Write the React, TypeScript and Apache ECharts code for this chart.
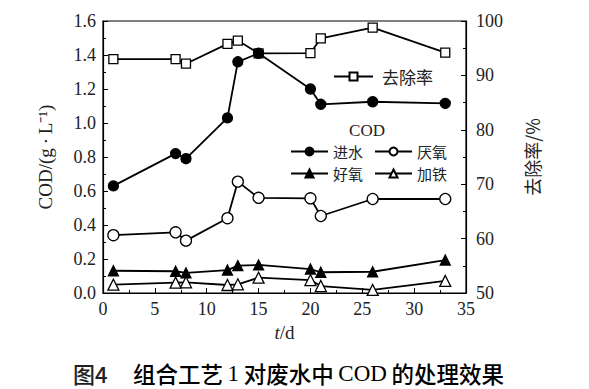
import React, { useEffect, useRef } from "react";
import * as echarts from "echarts";

const days = [1, 7, 8, 12, 13, 15, 20, 21, 26, 33];
const influent = [0.63, 0.82, 0.79, 1.03, 1.36, 1.41, 1.2, 1.11, 1.125, 1.115];
const anaerobic = [0.34, 0.357, 0.308, 0.44, 0.655, 0.56, 0.557, 0.453, 0.553, 0.553];
const aerobic = [0.131, 0.128, 0.118, 0.135, 0.161, 0.165, 0.141, 0.122, 0.125, 0.194];
const ironAdded = [0.049, 0.061, 0.063, 0.047, 0.051, 0.09, 0.076, 0.041, 0.018, 0.071];
const removalRate = [93.0, 93.0, 92.15, 95.8, 96.4, 94.05, 94.1, 96.8, 98.8, 94.2];

const serif = "'Liberation Serif', 'Times New Roman', serif";
const cjk = "'Noto Sans CJK SC', sans-serif";

const pairs = (vals: number[]) => days.map((d, i) => [d, vals[i]]);

export default function App() {
  const ref = useRef<HTMLDivElement>(null);
  useEffect(() => {
    if (!ref.current) return;
    const chart = echarts.init(ref.current, undefined, { renderer: "svg" });
    const lineStyle = { color: "#000", width: 1.8 };
    const mk = (name: string, vals: number[], symbol: string, filled: boolean, size: number, yIdx = 0) => ({
      name,
      type: "line",
      yAxisIndex: yIdx,
      data: pairs(vals),
      symbol,
      symbolSize: size,
      showAllSymbol: true,
      lineStyle,
      itemStyle: { color: filled ? "#000" : "#fff", borderColor: "#000", borderWidth: 1.3 },
      z: 3,
    });
    const legendCommon = {
      itemHeight: 10,
      itemGap: 11,
      selectedMode: false,
      orient: "horizontal",
    };
    const capCjk = { fontFamily: cjk, fontSize: 22.5, fontWeight: 500, color: "#222" };
    const capSerif = { fontFamily: serif, fontSize: 23, fontWeight: "normal", color: "#222" };
    chart.setOption({
      animation: false,
      backgroundColor: "#fff",
      grid: {
        left: 103,
        right: 123,
        top: 21,
        height: 272,
        show: true,
        borderColor: "#000",
        borderWidth: 1.2,
      },
      xAxis: {
        type: "value",
        min: 0,
        max: 35,
        interval: 5,
        name: "{i|t}/d",
        nameLocation: "middle",
        nameGap: 30,
        nameTextStyle: {
          fontFamily: serif,
          fontSize: 19,
          color: "#222",
          rich: { i: { fontFamily: serif, fontStyle: "italic", fontSize: 19, color: "#222" } },
        },
        axisLine: { lineStyle: { color: "#000", width: 1.2 } },
        axisTick: { inside: true, length: 5, lineStyle: { color: "#000" } },
        minorTick: { show: true, splitNumber: 2, length: 3, lineStyle: { color: "#000" } },
        axisLabel: { fontFamily: serif, fontSize: 18, color: "#222", margin: 7 },
        splitLine: { show: false },
      },
      yAxis: [
        {
          type: "value",
          min: 0,
          max: 1.6,
          interval: 0.2,
          name: "COD/(g\u2009·\u2009L⁻¹)",
          nameLocation: "middle",
          nameGap: 48,
          nameTextStyle: { fontFamily: serif, fontSize: 19, color: "#222" },
          axisLine: { lineStyle: { color: "#000", width: 1.2 } },
          axisTick: { inside: true, length: 5, lineStyle: { color: "#000" } },
          minorTick: { show: true, splitNumber: 2, length: 3, lineStyle: { color: "#000" } },
          axisLabel: {
            fontFamily: serif,
            fontSize: 18,
            color: "#222",
            margin: 7,
            formatter: (v: number) => v.toFixed(1),
          },
          splitLine: { show: false },
        },
        {
          type: "value",
          min: 50,
          max: 100,
          interval: 10,
          position: "right",
          name: "去除率/%",
          nameLocation: "middle",
          nameRotate: 90,
          nameGap: 57,
          nameTextStyle: { fontFamily: cjk, fontSize: 18, color: "#222" },
          axisLine: { show: true, lineStyle: { color: "#000", width: 1.2 } },
          axisTick: { inside: true, length: 5, lineStyle: { color: "#000" } },
          minorTick: { show: true, splitNumber: 2, length: 3, lineStyle: { color: "#000" } },
          axisLabel: { fontFamily: serif, fontSize: 18, color: "#222", margin: 10 },
          splitLine: { show: false },
        },
      ],
      legend: [
        {
          ...legendCommon,
          itemWidth: 39,
          data: ["去除率"],
          left: 328,
          top: 63,
          textStyle: { fontFamily: cjk, fontSize: 17, color: "#222", padding: [0, 0, 0, 4] },
        },
        {
          ...legendCommon,
          itemWidth: 37,
          data: ["进水", "厌氧"],
          left: 285,
          top: 139,
          textStyle: { fontFamily: cjk, fontSize: 15, lineHeight: 15, color: "#222" },
        },
        {
          ...legendCommon,
          itemWidth: 37,
          data: ["好氧", "加铁"],
          left: 285,
          top: 161,
          textStyle: { fontFamily: cjk, fontSize: 15, lineHeight: 15, color: "#222" },
        },
      ],
      graphic: [
        {
          type: "text",
          x: 367,
          y: 130,
          style: {
            text: "COD",
            font: `17px ${serif}`,
            fill: "#222",
            align: "center",
            verticalAlign: "middle",
          },
        },
        {
          type: "text",
          x: 73,
          y: 373,
          style: {
            text: "图4",
            font: `500 22px ${cjk}`,
            fill: "#222",
            align: "left",
            verticalAlign: "middle",
          },
        },
        {
          type: "text",
          x: 133,
          y: 373,
          style: {
            text: "{c|组合工艺}{s|\u20091\u2009}{c|对废水中}{s|\u2009COD\u2009}{c|的处理效果}",
            align: "left",
            verticalAlign: "middle",
            rich: { c: capCjk, s: capSerif },
          },
        },
      ],
      series: [
        mk("去除率", removalRate, "rect", false, 9, 1),
        mk("进水", influent, "circle", true, 10),
        mk("厌氧", anaerobic, "circle", false, 11),
        mk("好氧", aerobic, "triangle", true, 10),
        mk("加铁", ironAdded, "triangle", false, 11),
      ],
    });
    return () => chart.dispose();
  }, []);
  return <div ref={ref} style={{ position: "fixed", left: 0, top: 0, width: 589, height: 389 }} />;
}
